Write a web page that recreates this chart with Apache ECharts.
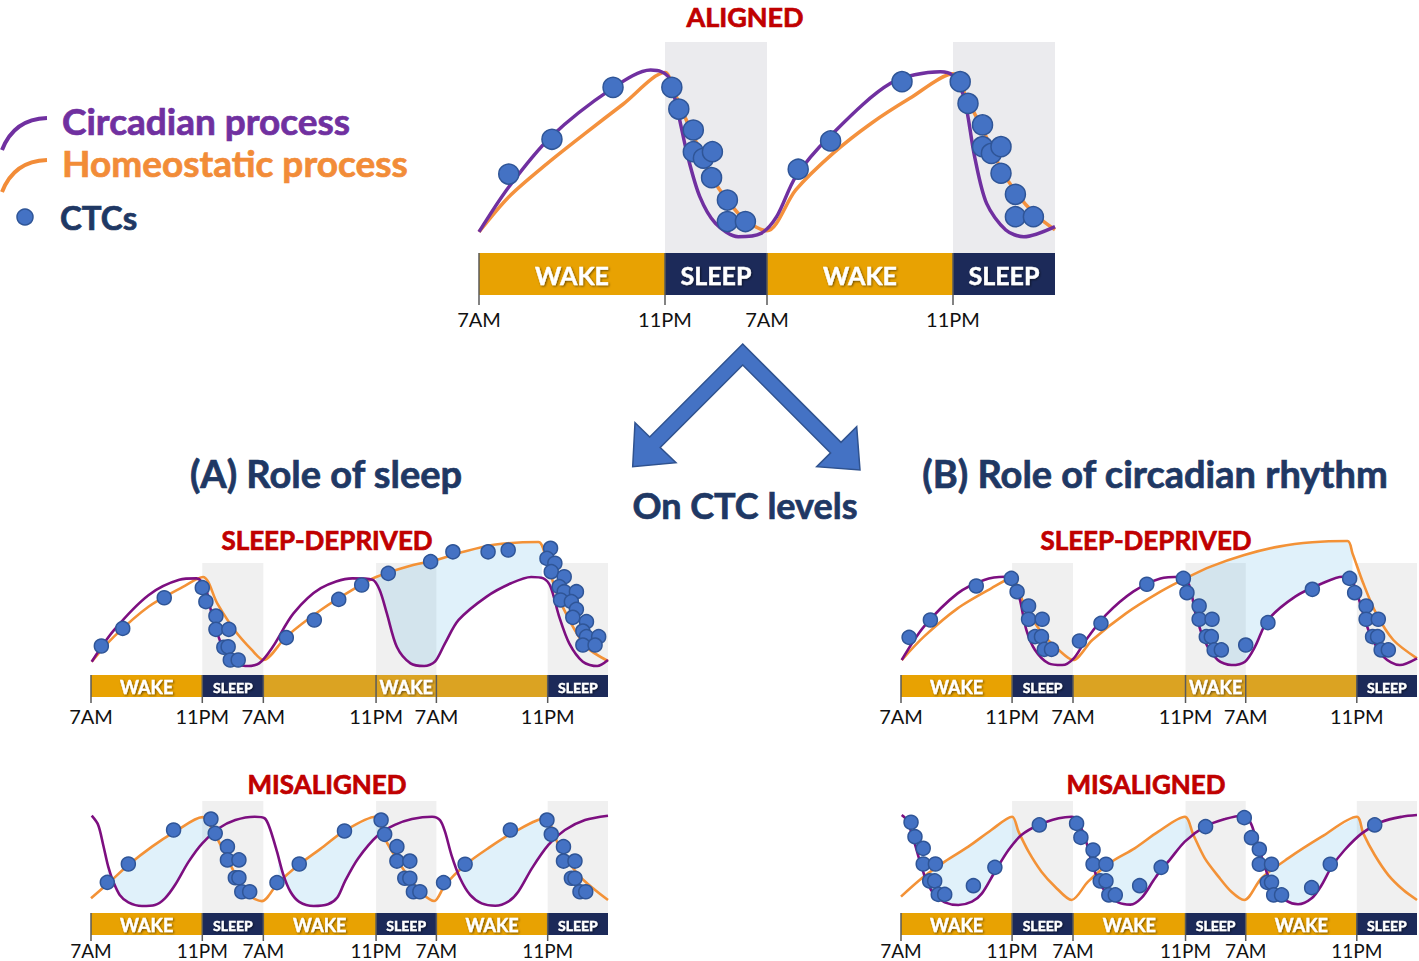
<!DOCTYPE html>
<html lang="en">
<head>
<meta charset="utf-8">
<title>CTC levels: sleep and circadian rhythm</title>
<script src="https://cdn.jsdelivr.net/npm/echarts@6/dist/echarts.min.js"></script>
<style>
  html, body { margin: 0; padding: 0; background: #fff; }
  #chart { width: 1419px; height: 961px; }
</style>
</head>
<body>
<div id="chart"></div>
<script>
// x = hours after 7AM of the first day (day marks placed as they sit in the picture)
// y = relative level, 0..10
const alignedTicks = [0, 15.5, 24, 39.5];
const alignedTickText = ['7AM', '11PM', '7AM', '11PM'];
const alignedSleep = [[15.5, 24], [39.5, 48]];
const alignedBar = [[0, 15.5], [15.5, 24], [24, 39.5], [39.5, 48]];
const alignedBarText = ['WAKE', 'SLEEP', 'WAKE', 'SLEEP'];
const alignedBarKind = ['wake', 'sleep', 'wake', 'sleep'];

const smallTicks = [0, 15.5, 24, 39.7, 48.1, 63.6];
const smallTickText = ['7AM', '11PM', '7AM', '11PM', '7AM', '11PM'];
const smallSleep = [[15.5, 24], [39.7, 48.1], [63.6, 72]];
const smallBar = [[0, 15.5], [15.5, 24], [24, 39.7], [39.7, 48.1], [48.1, 63.6], [63.6, 72]];
const misBarText = ['WAKE', 'SLEEP', 'WAKE', 'SLEEP', 'WAKE', 'SLEEP'];
const misBarKind = ['wake', 'sleep', 'wake', 'sleep', 'wake', 'sleep'];
const depBarText = ['WAKE', 'SLEEP', '', 'WAKE', '', 'SLEEP'];
const depBarKind = ['wake', 'sleep', 'late', 'late', 'late', 'sleep'];

// ALIGNED
const alignedCirc = [[0, 1.0], [2.5, 3.14], [6.0, 5.51], [11.1, 7.8], [14.3, 8.67], [15.2, 8.59], [15.85, 8.28],
  [16.6, 6.62], [17.4, 4.57], [18.4, 2.67], [19.7, 1.41], [21.6, 0.77], [23.5, 0.93], [24.8, 1.72], [26.4, 3.62],
  [29.2, 5.51], [34.3, 8.04], [38.45, 8.59], [39.4, 8.44], [40.4, 7.41], [41.3, 4.57], [42.3, 2.35], [43.9, 1.09],
  [45.4, 0.77], [48, 1.25]];
const alignedHomeo = [[0, 1.0], [2.5, 2.67], [5.7, 4.25], [8.85, 5.67], [12.0, 7.05], [15.5, 8.55], [16.3, 7.6],
  [17.2, 6.4], [18.3, 5.0], [19.4, 3.6], [20.7, 2.5], [22.2, 1.55], [24.0, 1.05], [26.4, 2.99], [29.5, 4.72],
  [32.7, 6.15], [35.9, 7.33], [39.5, 8.5], [40.7, 7.25], [42.0, 5.83], [43.4, 4.1], [44.8, 2.83], [46.4, 1.8], [48, 1.1]];
const alignedCtc = [[2.48, 3.74], [6.08, 5.39], [11.17, 7.85], [16.07, 7.85], [16.65, 6.82], [17.86, 5.83],
  [17.86, 4.8], [18.7, 4.49], [19.45, 4.8], [19.38, 3.57], [20.7, 2.51], [20.7, 1.49], [22.2, 1.49],
  [26.6, 3.97], [29.3, 5.31], [35.25, 8.12], [40.1, 8.12], [40.75, 7.09], [41.96, 6.07], [41.96, 5.04],
  [42.7, 4.72], [43.5, 5.04], [43.5, 3.78], [44.7, 2.78], [44.7, 1.72], [46.2, 1.72]];

// (A) SLEEP-DEPRIVED
const depACirc = [[0.1, 0.95], [3.2, 3.2], [8.0, 5.7], [12.3, 6.8], [14.7, 6.9], [15.9, 6.3], [16.8, 4.4],
  [18.1, 2.26], [19.5, 1.07], [21.5, 0.64], [23.4, 0.83], [25.3, 2.0], [28.2, 4.4], [32.0, 6.2], [36.4, 6.9],
  [39.2, 6.8], [40.2, 6.07], [41.2, 4.4], [42.6, 2.0], [44.5, 0.83], [46.4, 0.64], [47.9, 0.95], [49.3, 2.26],
  [51.2, 3.93], [55.1, 5.6], [58.5, 6.55], [61.3, 7.0], [63.0, 6.9], [64.0, 6.3], [65.2, 4.17], [66.6, 2.26],
  [68.5, 0.95], [70.5, 0.64], [72, 1.07]];
const depAHomeo = [[0.1, 0.95], [3.2, 2.74], [8.0, 4.88], [12.8, 6.3], [15.6, 7.0], [17.6, 5.1], [20.0, 3.2],
  [22.4, 1.79], [24.0, 1.07], [27.2, 2.74], [32.0, 4.64], [36.8, 6.2], [39.7, 7.0], [44.0, 7.74], [47.9, 8.2],
  [51.2, 8.7], [56.1, 9.3], [62.3, 9.5], [63.3, 8.45], [64.7, 6.07], [66.6, 3.93], [69.0, 2.0], [72, 1.0]];
const depACtc = [[1.44, 2.07], [4.42, 3.33], [10.2, 5.52], [15.5, 6.24], [16.0, 5.24], [17.4, 4.21], [17.4, 3.26],
  [19.2, 3.26], [18.5, 1.98], [19.1, 2.02], [19.4, 1.07], [20.5, 1.07], [27.2, 2.67], [31.1, 3.93], [34.5, 5.4],
  [37.7, 6.43], [41.4, 7.26], [47.3, 8.1], [50.4, 8.8], [55.3, 8.8], [58.1, 8.93], [64.0, 9.05], [63.5, 8.33],
  [64.6, 7.98], [64.1, 7.38], [65.9, 7.02], [65.2, 6.31], [65.9, 5.95], [67.6, 5.95], [65.4, 5.36], [66.9, 5.24],
  [67.6, 4.69], [67.1, 4.12], [69.0, 3.81], [68.5, 3.14], [69.0, 2.74], [70.7, 2.74], [68.5, 2.14], [70.2, 2.14]];
const depAFill = [[39.7, 62.8]];

// (B) SLEEP-DEPRIVED
const depBCirc = [[0.1, 1.07], [3.2, 3.45], [7.9, 5.83], [11.6, 6.79], [14.5, 7.02], [15.7, 6.79], [16.6, 5.36],
  [17.5, 3.21], [18.7, 1.79], [20.6, 0.83], [22.5, 0.71], [24.1, 1.19], [25.8, 2.5], [28.6, 4.29], [32.4, 5.95],
  [36.2, 6.9], [39.0, 7.02], [40.2, 6.43], [41.1, 4.4], [42.3, 2.5], [44.2, 1.07], [46.1, 0.71], [48.0, 0.95],
  [49.4, 2.02], [51.2, 3.93], [55.0, 5.6], [58.8, 6.55], [61.6, 7.02], [63.0, 6.67], [64.2, 4.88], [65.4, 2.98],
  [67.3, 1.31], [69.6, 0.71], [72, 1.19]];
const depBHomeo = [[0.1, 1.07], [3.2, 2.74], [7.9, 4.76], [12.6, 6.19], [15.4, 6.9], [17.3, 4.88], [19.7, 2.98],
  [22.0, 1.79], [24.0, 1.07], [26.7, 2.5], [31.4, 4.4], [36.2, 5.95], [39.7, 6.9], [43.2, 7.74], [47.9, 8.57],
  [52.7, 9.17], [57.4, 9.48], [62.3, 9.57], [63.0, 8.69], [64.5, 6.55], [66.3, 4.4], [68.7, 2.5], [72, 1.19]];
const depBCtc = [[1.13, 2.69], [4.1, 3.93], [10.5, 6.36], [15.4, 6.9], [16.2, 5.95], [17.8, 4.93], [17.8, 3.98],
  [19.7, 3.98], [18.7, 2.74], [19.6, 2.74], [20.0, 1.83], [21.0, 1.83], [24.9, 2.43], [27.9, 3.69], [34.3, 6.48],
  [39.4, 6.9], [39.9, 5.88], [41.6, 4.93], [41.6, 3.98], [43.4, 3.98], [42.6, 2.74], [43.3, 2.74], [43.7, 1.79],
  [44.7, 1.79], [48.1, 2.14], [51.2, 3.74], [57.4, 6.12], [62.6, 6.9], [63.3, 5.88], [64.9, 4.93], [64.9, 3.98],
  [66.6, 3.98], [65.8, 2.74], [66.5, 2.74], [67.0, 1.79], [68.0, 1.79]];
const depBFill = [[39.7, 63.0]];

// (A) MISALIGNED
const misACirc = [[0.1, 6.95], [1.0, 6.29], [1.7, 4.86], [2.4, 3.31], [3.1, 2.24], [4.0, 1.29], [5.2, 0.76],
  [7.1, 0.5], [8.9, 0.57], [10.3, 1.05], [11.7, 2.0], [13.6, 3.67], [15.5, 4.98], [17.8, 6.05], [20.1, 6.64],
  [22.8, 6.88], [24.2, 6.76], [24.9, 6.05], [25.9, 4.38], [26.8, 2.71], [27.8, 1.5], [29.0, 0.8], [31.0, 0.5],
  [33.0, 0.62], [34.3, 1.1], [35.4, 2.3], [37.2, 3.9], [40.0, 5.57], [42.3, 6.29], [44.7, 6.71], [47.5, 6.88],
  [48.6, 6.64], [49.3, 5.81], [50.2, 4.14], [51.4, 2.48], [52.8, 1.29], [54.4, 0.69], [56.3, 0.52], [58.1, 0.81],
  [59.5, 1.52], [61.4, 3.19], [63.7, 4.86], [66.0, 5.93], [68.8, 6.64], [72, 6.95]];
const misAHomeo = [[0, 1.05], [2.4, 2.12], [5.2, 3.43], [8.5, 4.74], [11.7, 5.81], [15.5, 6.85], [17.3, 5.57],
  [19.2, 3.67], [20.5, 2.36], [21.9, 1.29], [23.8, 0.85], [26.0, 2.12], [28.9, 3.43], [32.0, 4.6], [35.4, 5.9],
  [39.6, 6.88], [40.9, 5.33], [42.8, 3.67], [44.7, 2.24], [46.1, 1.4], [47.8, 0.86], [49.3, 2.0], [52.1, 3.43],
  [55.3, 4.62], [58.6, 5.69], [63.5, 6.81], [64.3, 5.81], [65.6, 4.38], [67.9, 2.71], [70.2, 1.64], [72, 0.93]];
const misACtc = [[2.27, 2.19], [5.2, 3.5], [11.5, 5.93], [16.7, 6.71], [17.3, 5.69], [19.0, 4.74], [19.0, 3.79],
  [20.6, 3.79], [20.1, 2.52], [20.6, 2.52], [21.0, 1.52], [22.1, 1.52], [25.9, 2.17], [29.0, 3.5], [35.3, 5.86],
  [40.4, 6.64], [40.9, 5.62], [42.6, 4.74], [42.6, 3.71], [44.4, 3.71], [43.7, 2.48], [44.4, 2.48], [44.9, 1.52],
  [45.8, 1.52], [49.1, 2.17], [52.1, 3.48], [58.4, 5.93], [63.5, 6.64], [64.1, 5.62], [65.8, 4.74], [65.8, 3.71],
  [67.4, 3.71], [66.9, 2.48], [67.4, 2.48], [68.1, 1.52], [68.9, 1.52]];
const misAFill = [[2.3, 17.0], [26.1, 40.7], [51.1, 64.4]];

// (B) MISALIGNED
const misBCirc = [[0.1, 7.0], [0.8, 6.64], [1.7, 5.33], [2.65, 3.67], [3.6, 2.24], [4.7, 1.29], [6.1, 0.76],
  [8.0, 0.57], [9.9, 0.81], [11.3, 1.4], [13.1, 2.95], [15.0, 4.5], [16.8, 5.57], [19.2, 6.29], [22.0, 6.76],
  [23.8, 6.88], [24.7, 6.52], [25.7, 5.33], [26.6, 3.67], [27.5, 2.36], [28.7, 1.4], [30.3, 0.76], [32.0, 0.6],
  [33.6, 1.1], [35.2, 2.3], [36.3, 3.1], [37.5, 3.8], [39.6, 5.1], [42.4, 6.17], [45.2, 6.71], [47.7, 6.95],
  [48.7, 6.52], [49.4, 5.57], [50.1, 4.38], [51.0, 2.95], [52.2, 1.64], [53.8, 0.86], [55.4, 0.62], [57.3, 1.05],
  [58.7, 2.0], [60.1, 3.31], [61.9, 4.5], [64.3, 5.69], [67.1, 6.52], [69.9, 6.88], [72, 7.0]];
const misBHomeo = [[0, 1.17], [2.9, 2.48], [6.1, 3.67], [9.4, 4.74], [12.6, 5.93], [15.5, 6.88], [16.4, 5.81],
  [17.8, 4.38], [19.6, 2.95], [21.5, 1.88], [23.8, 0.93], [26.1, 2.24], [29.4, 3.67], [32.6, 4.62], [35.9, 5.81],
  [39.6, 6.88], [40.8, 5.57], [42.4, 3.9], [44.3, 2.6], [46.1, 1.52], [47.9, 0.93], [50.3, 2.48], [54.0, 3.9],
  [58.7, 5.45], [63.6, 6.88], [64.5, 5.69], [66.1, 4.14], [68.0, 2.71], [70.1, 1.64], [72, 0.93]];
const misBCtc = [[1.4, 6.48], [1.95, 5.45], [3.1, 4.62], [3.1, 3.5], [4.8, 3.5], [4.0, 2.29], [4.7, 2.29],
  [5.2, 1.33], [6.1, 1.33], [10.1, 1.95], [13.1, 3.26], [19.3, 6.29], [24.5, 6.4], [25.1, 5.4], [26.8, 4.5],
  [26.8, 3.48], [28.6, 3.48], [27.8, 2.29], [28.6, 2.29], [29.0, 1.29], [29.9, 1.29], [33.3, 1.95], [36.3, 3.26],
  [42.5, 6.17], [47.9, 6.81], [48.9, 5.38], [50.0, 4.55], [50.0, 3.48], [51.7, 3.48], [51.1, 2.19], [51.7, 2.19],
  [52.0, 1.29], [53.1, 1.29], [57.3, 1.81], [59.9, 3.48], [66.1, 6.29]];
const misBFill = [[2.9, 16.6], [27.3, 40.6], [51.2, 64.7]];

const FONT = 'Lato, "Open Sans", sans-serif';
const NAVY = '#1f3864';
const RED = '#c00000';
const barColor = { wake: '#e8a202', late: '#dba322', sleep: '#1c2a59' };
const FILL = 'rgba(60,165,225,0.16)';

const chart = echarts.init(document.getElementById('chart'), null, { renderer: 'svg' });

const option = {
    animation: false,
    grid: [], xAxis: [], yAxis: [], series: [],
    graphic: { elements: [] }
};

// value of a read curve at x, straight between neighbouring read points (only used to close fill polygons)
function at(curve, x) {
    for (let i = 1; i < curve.length; i++) {
        if (curve[i][0] >= x) {
            const a = curve[i - 1], b = curve[i];
            const t = (x - a[0]) / (b[0] - a[0]);
            return a[1] + t * (b[1] - a[1]);
        }
    }
    return curve[curve.length - 1][1];
}

function part(curve, a, b) {
    const out = [[a, at(curve, a)]];
    curve.forEach(function (d) { if (d[0] > a && d[0] < b) out.push(d); });
    out.push([b, at(curve, b)]);
    return out;
}

function addPanel(p) {
    const g = option.grid.length;
    option.grid.push({ left: p.left, top: p.top, width: p.width, height: p.plotH });
    option.grid.push({ left: p.left, top: p.top + p.plotH, width: p.width, height: p.barH });
    option.xAxis.push({ type: 'value', gridIndex: g, min: 0, max: p.xMax, show: false });
    option.xAxis.push({
        type: 'value', gridIndex: g + 1, min: 0, max: p.xMax,
        axisLine: { show: false }, axisTick: { show: false }, splitLine: { show: false },
        axisLabel: {
            customValues: p.ticks,
            margin: p.labelMargin,
            fontSize: p.tickFont, fontFamily: FONT, color: '#111',
            formatter: function (v) {
                const i = p.ticks.findIndex(function (t) { return Math.abs(t - v) < 1e-6; });
                return i < 0 ? '' : p.tickText[i];
            }
        }
    });
    option.yAxis.push({ type: 'value', gridIndex: g, min: 0, max: 10, show: false });
    option.yAxis.push({ type: 'value', gridIndex: g + 1, min: 0, max: 1, show: false });

    // grey night shading
    option.series.push({
        type: 'custom', xAxisIndex: g, yAxisIndex: g, z: 1, silent: true,
        data: p.sleep,
        renderItem: function (params, api) {
            const a = api.coord([api.value(0), p.shadeTop]);
            const b = api.coord([api.value(1), 0]);
            return { type: 'rect', shape: { x: a[0], y: a[1], width: b[0] - a[0], height: b[1] - a[1] }, style: { fill: p.shade } };
        }
    });
    // light blue gap between the two processes
    if (p.fills) {
        option.series.push({
            type: 'custom', xAxisIndex: g, yAxisIndex: g, z: 2, silent: true,
            data: p.fills,
            renderItem: function (params, api) {
                const a = api.value(0), b = api.value(1);
                const pts = part(p.homeo, a, b).concat(part(p.circ, a, b).reverse())
                    .map(function (d) { return api.coord(d); });
                return { type: 'polygon', shape: { points: pts }, style: { fill: FILL } };
            }
        });
    }
    option.series.push({
        type: 'line', name: 'Homeostatic process', xAxisIndex: g, yAxisIndex: g, z: 3, silent: true,
        data: p.homeo, smooth: 0.3, showSymbol: false,
        lineStyle: { color: p.orange, width: p.lineW }
    });
    option.series.push({
        type: 'line', name: 'Circadian process', xAxisIndex: g, yAxisIndex: g, z: 4, silent: true,
        data: p.circ, smooth: 0.3, showSymbol: false,
        lineStyle: { color: p.purple, width: p.lineW }
    });
    option.series.push({
        type: 'scatter', name: 'CTCs', xAxisIndex: g, yAxisIndex: g, z: 5, silent: true, clip: false,
        data: p.ctc, symbolSize: p.dot,
        itemStyle: { color: '#4472c4', borderColor: '#2f5597', borderWidth: 1.5, opacity: 1 }
    });
    // WAKE / SLEEP strip with the day marks
    option.series.push({
        type: 'custom', xAxisIndex: g + 1, yAxisIndex: g + 1, z: 2, silent: true,
        data: p.bar,
        renderItem: function (params, api) {
            const i = params.dataIndex;
            const s = api.coord([api.value(0), 1]);
            const e = api.coord([api.value(1), 0]);
            const txt = p.barText[i];
            const size = txt === 'SLEEP' ? p.sleepFont : p.wakeFont;
            return {
                type: 'group',
                children: [
                    { type: 'rect', shape: { x: s[0], y: s[1], width: e[0] - s[0], height: e[1] - s[1] },
                      style: { fill: barColor[p.barKind[i]] } },
                    { type: 'line', shape: { x1: s[0], y1: s[1], x2: s[0], y2: e[1] + p.tickLen },
                      style: { stroke: '#5a5a5a', lineWidth: 1.5 } },
                    { type: 'text', x: (s[0] + e[0]) / 2, y: (s[1] + e[1]) / 2 + 1,
                      style: { text: txt, fill: '#fff', font: 'bold ' + size + 'px ' + FONT,
                               align: 'center', verticalAlign: 'middle',
                               textAlign: 'center', textVerticalAlign: 'middle',
                               stroke: '#fff', lineWidth: 0.4,
                               textShadowColor: 'rgba(0,0,0,0.55)', textShadowBlur: 2,
                               textShadowOffsetX: 1, textShadowOffsetY: 1 } }
                ]
            };
        }
    });
}

addPanel({ left: 479, width: 576, top: 42, plotH: 211, barH: 42, xMax: 48,
    shadeTop: 10, shade: '#ebebee', circ: alignedCirc, homeo: alignedHomeo, ctc: alignedCtc,
    sleep: alignedSleep, bar: alignedBar, barText: alignedBarText, barKind: alignedBarKind,
    ticks: alignedTicks, tickText: alignedTickText, dot: 20, lineW: 3.5, tickFont: 20,
    purple: '#7030a0', orange: '#f4913d', wakeFont: 25, sleepFont: 25, tickLen: 10, labelMargin: 14 });

const smallBase = { width: 517, plotH: 140, barH: 22, xMax: 72, shadeTop: 8, shade: '#f0f0f0',
    sleep: smallSleep, bar: smallBar, ticks: smallTicks, tickText: smallTickText, dot: 14, lineW: 2.6,
    tickFont: 20, purple: '#7d0f80', orange: '#f39237', wakeFont: 18, sleepFont: 14, tickLen: 6, labelMargin: 9 };

addPanel(Object.assign({}, smallBase, { left: 91, top: 535, circ: depACirc, homeo: depAHomeo, ctc: depACtc,
    fills: depAFill, barText: depBarText, barKind: depBarKind }));
addPanel(Object.assign({}, smallBase, { left: 901, width: 516, top: 535, circ: depBCirc, homeo: depBHomeo, ctc: depBCtc,
    fills: depBFill, barText: depBarText, barKind: depBarKind }));
addPanel(Object.assign({}, smallBase, { left: 91, top: 773, circ: misACirc, homeo: misAHomeo, ctc: misACtc,
    fills: misAFill, barText: misBarText, barKind: misBarKind, labelMargin: 6, tickFont: 19 }));
addPanel(Object.assign({}, smallBase, { left: 901, width: 516, top: 773, circ: misBCirc, homeo: misBHomeo, ctc: misBCtc,
    fills: misBFill, barText: misBarText, barKind: misBarKind, labelMargin: 6, tickFont: 19 }));

// headings, legend and the arrow
function label(text, x, y, size, color, align) {
    return {
        type: 'text', x: x, y: y, silent: true,
        style: { text: text, fill: color, font: 'bold ' + size + 'px ' + FONT,
                 align: align || 'center', verticalAlign: 'middle',
                 textAlign: align || 'center', textVerticalAlign: 'middle',
                 stroke: color, lineWidth: 0.7 }
    };
}

option.graphic.elements.push(
    label('ALIGNED', 745, 16, 27, RED),
    label('Circadian process', 62, 120, 37, '#7030a0', 'left'),
    label('Homeostatic process', 62, 162, 37, '#f28c38', 'left'),
    label('CTCs', 60, 217, 33, NAVY, 'left'),
    label('(A) Role of sleep', 326, 473, 38, NAVY),
    label('(B) Role of circadian rhythm', 1155, 473, 38, NAVY),
    label('On CTC levels', 745, 505, 36, NAVY),
    label('SLEEP-DEPRIVED', 327, 540, 26, RED),
    label('SLEEP-DEPRIVED', 1146, 540, 26, RED),
    label('MISALIGNED', 327, 784, 26, RED),
    label('MISALIGNED', 1146, 784, 26, RED),
    { type: 'bezierCurve', silent: true,
      shape: { x1: 2, y1: 150, cpx1: 14, cpy1: 119, x2: 47, y2: 118 },
      style: { stroke: '#7030a0', lineWidth: 4, fill: null } },
    { type: 'bezierCurve', silent: true,
      shape: { x1: 2, y1: 192, cpx1: 14, cpy1: 161, x2: 47, y2: 160 },
      style: { stroke: '#f28c38', lineWidth: 4, fill: null } },
    { type: 'circle', silent: true, shape: { cx: 25, cy: 217, r: 8 },
      style: { fill: '#4472c4', stroke: '#2f5597', lineWidth: 1.5 } },
    { type: 'polygon', silent: true,
      shape: { points: [[742.7, 344], [841, 442.4], [856.7, 426.7], [860, 470], [816.7, 466.7], [830.6, 452.9],
                        [742.7, 365], [660.2, 447.5], [676, 462.7], [632.7, 466.7], [635, 422.7], [649.7, 437]] },
      style: { fill: '#4472c4', stroke: '#2f528f', lineWidth: 1.5 } }
);

chart.setOption(option);
</script>
</body>
</html>
